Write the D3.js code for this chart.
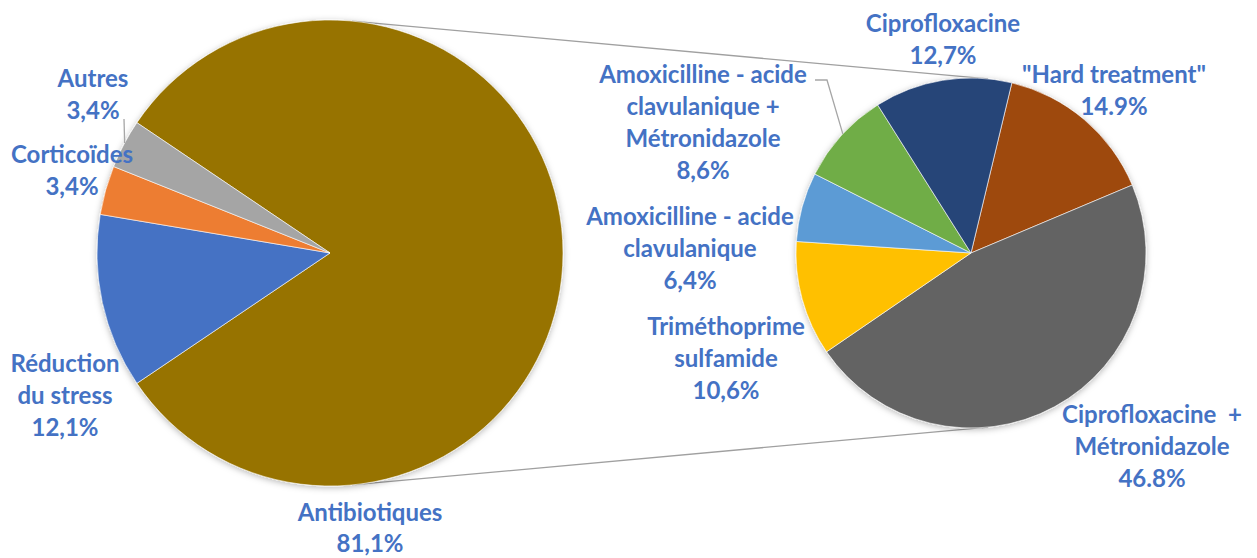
<!DOCTYPE html>
<html>
<head>
<meta charset="utf-8">
<script src="https://cdn.jsdelivr.net/npm/d3@7"></script>
<style>
  html, body { margin: 0; padding: 0; background: #fff; }
  svg { display: block; }
</style>
</head>
<body>
<svg id="chart" width="1257" height="558"></svg>
<script>
// ---- data ----
const leftCategories = ["Antibiotiques", "Réduction du stress", "Corticoïdes", "Autres"];
const leftValues = [81.1, 12.1, 3.4, 3.4];
const leftPercentLabels = ["81,1%", "12,1%", "3,4%", "3,4%"];

const rightCategories = ["\"Hard treatment\"", "Ciprofloxacine + Métronidazole", "Triméthoprime sulfamide",
  "Amoxicilline - acide clavulanique", "Amoxicilline - acide clavulanique + Métronidazole", "Ciprofloxacine"];
const rightValues = [14.9, 46.8, 10.6, 6.4, 8.6, 12.7];
const rightPercentLabels = ["14.9%", "46.8%", "10,6%", "6,4%", "8,6%", "12,7%"];

// ---- styles / layout ----
const leftColors = ["#977300", "#4472C4", "#ED7D31", "#A5A5A5"];
const rightColors = ["#9E480E", "#636363", "#FFC000", "#5B9BD5", "#70AD47", "#264478"];
const labelColor = "#4472C4";
const lineGap = 32;

const L = { cx: 330, cy: 253, r: 233 };
const R = { cx: 971, cy: 253, r: 175 };
const deg = Math.PI / 180;

const leftLabelLayout = [
  { lines: ["Antibiotiques"], x: 370, y: 521, gap: 31 },
  { lines: ["Réduction", "du stress"], x: 65, y: 372, leader: { angle: 257.6, x: 103, y: 303 } },
  { lines: ["Corticoïdes"], x: 72, y: 163 },
  { lines: ["Autres"], x: 93, y: 87, leader: { angle: 298.2, x: 124, y: 119 } }
];
const rightLabelLayout = [
  { lines: ["\"Hard treatment\""], x: 1114, y: 83 },
  { lines: ["Ciprofloxacine\u00A0 +", "Métronidazole"], x: 1152, y: 423 },
  { lines: ["Triméthoprime", "sulfamide"], x: 726, y: 335 },
  { lines: ["Amoxicilline - acide", "clavulanique"], x: 690, y: 225 },
  { lines: ["Amoxicilline - acide", "clavulanique +", "Métronidazole"], x: 703, y: 83,
    leader: { angle: 312.9, x: 815, y: 80, elbow: 827 } },
  { lines: ["Ciprofloxacine"], x: 943, y: 32 }
];

const svg = d3.select("#chart");
const defs = svg.append("defs");
const f = defs.append("filter").attr("id", "shadow").attr("x", "-10%").attr("y", "-10%").attr("width", "120%").attr("height", "120%");
f.append("feDropShadow").attr("dx", 0).attr("dy", 1.5).attr("stdDeviation", 3)
  .attr("flood-color", "#000").attr("flood-opacity", 0.28);

function edgePoint(P, angleDeg) {
  const a = angleDeg * deg;
  return [P.cx + P.r * Math.sin(a), P.cy - P.r * Math.cos(a)];
}

// connector lines between pies
const connectorAngles = [[5.4, 5.6], [174.6, 174.4]];
connectorAngles.forEach(([aL, aR]) => {
  const p1 = edgePoint(L, aL), p2 = edgePoint(R, aR);
  svg.append("line").attr("x1", p1[0]).attr("y1", p1[1]).attr("x2", p2[0]).attr("y2", p2[1])
    .attr("stroke", "#A0A0A0").attr("stroke-width", 1.3);
});

// left pie
const leftStart = Math.PI / 2 - Math.PI * leftValues[0] / 100;
const leftPie = d3.pie().sort(null).value(d => d)
  .startAngle(leftStart).endAngle(leftStart + 2 * Math.PI);
const leftArc = d3.arc().innerRadius(0).outerRadius(L.r);
const gL = svg.append("g").attr("transform", `translate(${L.cx},${L.cy})`).attr("filter", "url(#shadow)");
gL.selectAll("path").data(leftPie(leftValues)).join("path")
  .attr("d", leftArc).attr("fill", (d, i) => leftColors[i])
  .attr("stroke", "#fff").attr("stroke-width", 0.6);

// right pie
const rightStart = 13.5 * deg;
const rightPie = d3.pie().sort(null).value(d => d)
  .startAngle(rightStart).endAngle(rightStart + 2 * Math.PI);
const rightArc = d3.arc().innerRadius(0).outerRadius(R.r);
const gR = svg.append("g").attr("transform", `translate(${R.cx},${R.cy})`).attr("filter", "url(#shadow)");
gR.selectAll("path").data(rightPie(rightValues)).join("path")
  .attr("d", rightArc).attr("fill", (d, i) => rightColors[i])
  .attr("stroke", "#fff").attr("stroke-width", 0.6);

// labels
function drawLabels(P, layout, pcts) {
  layout.forEach((lab, i) => {
    if (lab.leader) {
      const e = edgePoint(P, lab.leader.angle);
      const pts = [[lab.leader.x, lab.leader.y]];
      if (lab.leader.elbow !== undefined) pts.push([lab.leader.elbow, lab.leader.y]);
      pts.push(e);
      svg.append("polyline").attr("points", pts.map(p => p.join(",")).join(" "))
        .attr("fill", "none").attr("stroke", "#A6A6A6").attr("stroke-width", 1.3);
    }
    const t = svg.append("text").attr("text-anchor", "middle")
      .attr("font-family", "Lato, 'Open Sans', sans-serif").attr("font-weight", "bold")
      .attr("font-size", 24).attr("fill", labelColor);
    const lines = lab.lines.concat([pcts[i]]);
    const g = lab.gap || lineGap;
    lines.forEach((ln, k) => {
      t.append("tspan").attr("x", lab.x).attr("y", lab.y + k * g).text(ln);
    });
  });
}
drawLabels(L, leftLabelLayout, leftPercentLabels);
drawLabels(R, rightLabelLayout, rightPercentLabels);
</script>
</body>
</html>
